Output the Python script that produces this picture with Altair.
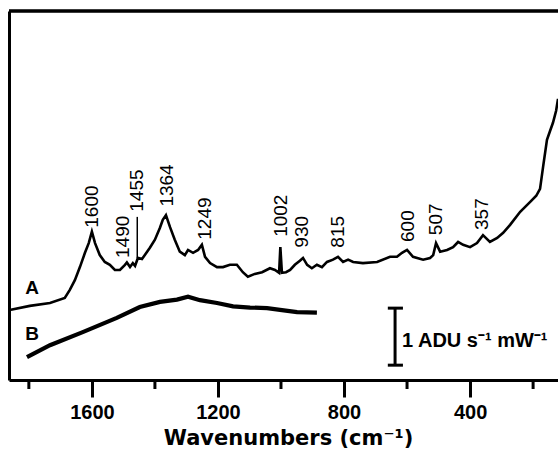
import altair as alt
import pandas as pd

# Trace A (wavenumber cm-1, intensity ADU s-1 mW-1, offset)
a_wn = [1857, 1797, 1733, 1686, 1670, 1654, 1638, 1622, 1610, 1600, 1590, 1575, 1559, 1543,
        1527, 1511, 1495, 1489, 1479, 1470, 1463, 1454, 1441, 1432, 1416, 1400, 1384, 1375,
        1365, 1352, 1337, 1321, 1305, 1295, 1279, 1263, 1251, 1241, 1225, 1203, 1184, 1162,
        1140, 1121, 1105, 1083, 1060, 1035, 1019, 1006, 1002, 997, 984, 971, 956, 940, 930,
        917, 902, 886, 870, 854, 835, 819, 803, 787, 771, 740, 695, 654, 632, 616, 600, 581,
        549, 527, 517, 508, 495, 473, 454, 438, 422, 400, 378, 359, 337, 314, 295, 273, 241,
        210, 190, 178, 168, 156, 146, 137, 127, 121]
a_int = [1.23, 1.30, 1.35, 1.44, 1.58, 1.75, 1.98, 2.23, 2.40, 2.60, 2.40, 2.19, 2.07, 2.02,
         1.93, 1.93, 2.02, 2.06, 1.98, 2.05, 2.00, 2.14, 2.12, 2.19, 2.32, 2.46, 2.67, 2.81,
         2.89, 2.68, 2.46, 2.25, 2.19, 2.28, 2.23, 2.28, 2.37, 2.16, 2.05, 1.98, 1.98, 2.02,
         2.02, 1.89, 1.81, 1.86, 1.89, 1.96, 1.93, 1.88, 2.33, 1.88, 1.89, 1.93, 2.02, 2.09, 2.14,
         2.02, 1.96, 2.02, 1.98, 2.07, 2.11, 2.16, 2.07, 2.11, 2.07, 2.05, 2.07, 2.16, 2.16, 2.23, 2.28, 2.16,
         2.11, 2.14, 2.19, 2.40, 2.25, 2.28, 2.33, 2.42, 2.37, 2.33, 2.40, 2.54, 2.42, 2.49, 2.58, 2.72, 2.95,
         3.12, 3.23, 3.35, 3.75, 4.21, 4.37, 4.51, 4.72, 4.93]

# Trace B
b_wn = [1806, 1733, 1629, 1521, 1448, 1384, 1330, 1295, 1257, 1203, 1152, 1098, 1044, 1003, 949, 886]
b_int = [0.40, 0.61, 0.84, 1.09, 1.28, 1.37, 1.41, 1.46, 1.40, 1.35, 1.29, 1.27, 1.26, 1.23, 1.19, 1.18]

# Peak labels
peak_text = ["1600", "1490", "1455", "1364", "1249", "1002", "930", "815", "600", "507", "357"]
peak_x = [1600, 1500, 1456, 1362, 1241, 1000, 933, 819, 597, 508, 362]
peak_y = [2.67, 2.14, 2.95, 3.04, 2.46, 2.51, 2.32, 2.32, 2.42, 2.54, 2.63]

# Marker line for the 1455 band
mark1455_wn = [1456]
mark1455_top = [2.86]
mark1455_bot = [2.14]

trace_names = ["A", "B"]
trace_name_wn = [1790, 1790]
trace_name_int = [1.51, 0.70]

# Scale bar: 1 ADU s-1 mW-1
bar_wn = [638]
bar_lo = [0.26]
bar_hi = [1.26]
bar_cap_left = [661]
bar_cap_right = [613]
bar_text = ["1 ADU s\u207b\u00b9 mW\u207b\u00b9"]
bar_text_wn = [616]
bar_text_int = [0.58]

major_ticks = [1600, 1200, 800, 400]
minor_ticks = [1800, 1400, 1000, 600, 200]

W, H = 549, 369

df_a = pd.DataFrame({"wn": a_wn, "I": a_int})
df_b = pd.DataFrame({"wn": b_wn, "I": b_int})
df_peaks = pd.DataFrame({"wn": peak_x, "I": peak_y, "t": peak_text})
df_mark = pd.DataFrame({"wn": mark1455_wn, "I": mark1455_top, "I2": mark1455_bot})
df_names = pd.DataFrame({"wn": trace_name_wn, "I": trace_name_int, "t": trace_names})
df_bar = pd.DataFrame({"wn": bar_wn, "I": bar_lo, "I2": bar_hi})
df_caps = pd.DataFrame({"wn": bar_cap_left * 2, "wn2": bar_cap_right * 2, "I": bar_lo + bar_hi})
df_bartext = pd.DataFrame({"wn": bar_text_wn, "I": bar_text_int, "t": bar_text})
df_minor = pd.DataFrame({"wn": minor_ticks})

xs = alt.Scale(domain=[121, 1863], reverse=True, nice=False, zero=False)
ys = alt.Scale(domain=[0, 6.47], nice=False, zero=False)

xaxis = alt.Axis(
    values=major_ticks, format="d", tickSize=17, tickWidth=3, tickColor="black",
    domainWidth=3, domainColor="black", grid=False,
    labelFont="Liberation Sans", labelFontWeight="bold", labelFontSize=20, labelColor="black",
    labelPadding=5, labelBaseline="top", labelFlush=False, labelOverlap=False,
    title="Wavenumbers (cm\u207b\u00b9)", titleFont="DejaVu Sans", titleFontWeight="bold",
    titleFontSize=21, titleColor="black", titleBaseline="alphabetic", titleAlign="center",
    titleX=279, titleY=64,
)
yaxis = alt.Axis(labels=False, ticks=False, title=None, grid=False, domainWidth=3, domainColor="black")

X = alt.X("wn:Q", scale=xs, axis=xaxis)
Y = alt.Y("I:Q", scale=ys, axis=yaxis)

line_a = alt.Chart(df_a).mark_line(color="black", strokeWidth=2.6, clip=True).encode(x=X, y=Y)
line_b = alt.Chart(df_b).mark_line(color="black", strokeWidth=4.2).encode(x=X, y=Y)

peaks = alt.Chart(df_peaks).mark_text(
    angle=270, align="left", baseline="middle", font="Liberation Sans", fontSize=19, color="black"
).encode(x=X, y=Y, text="t:N")

mark_line = alt.Chart(df_mark).mark_rule(color="black", strokeWidth=1.5).encode(x=X, y=Y, y2="I2:Q")

names = alt.Chart(df_names).mark_text(
    align="center", baseline="alphabetic", font="Liberation Sans", fontWeight="bold", fontSize=19, color="black"
).encode(x=X, y=Y, text="t:N")

bar = alt.Chart(df_bar).mark_rule(color="black", strokeWidth=3).encode(x=X, y=Y, y2="I2:Q")
caps = alt.Chart(df_caps).mark_rule(color="black", strokeWidth=3).encode(x=X, x2="wn2:Q", y=Y)
bartext = alt.Chart(df_bartext).mark_text(
    align="left", baseline="alphabetic", font="Liberation Sans", fontWeight="bold", fontSize=20, color="black"
).encode(x=X, y=Y, text="t:N")

minor = alt.Chart(df_minor).mark_rule(color="black", strokeWidth=3).encode(
    x=X, y=alt.value(H), y2=alt.value(H + 9)
)
top_border = alt.Chart(df_minor).mark_rule(color="black", strokeWidth=2.5).encode(
    x=alt.value(0), x2=alt.value(W + 5), y=alt.value(0)
)

chart = alt.layer(
    line_a, line_b, peaks, mark_line, names, bar, caps, bartext, minor, top_border
).properties(
    width=W, height=H,
    autosize=alt.AutoSizeParams(type="none"),
    padding={"left": 9, "top": 11, "right": 0, "bottom": 71},
).configure_view(stroke=None).configure(background="white")

chart.save("out.html", embed_options={"renderer": "svg", "actions": False})
